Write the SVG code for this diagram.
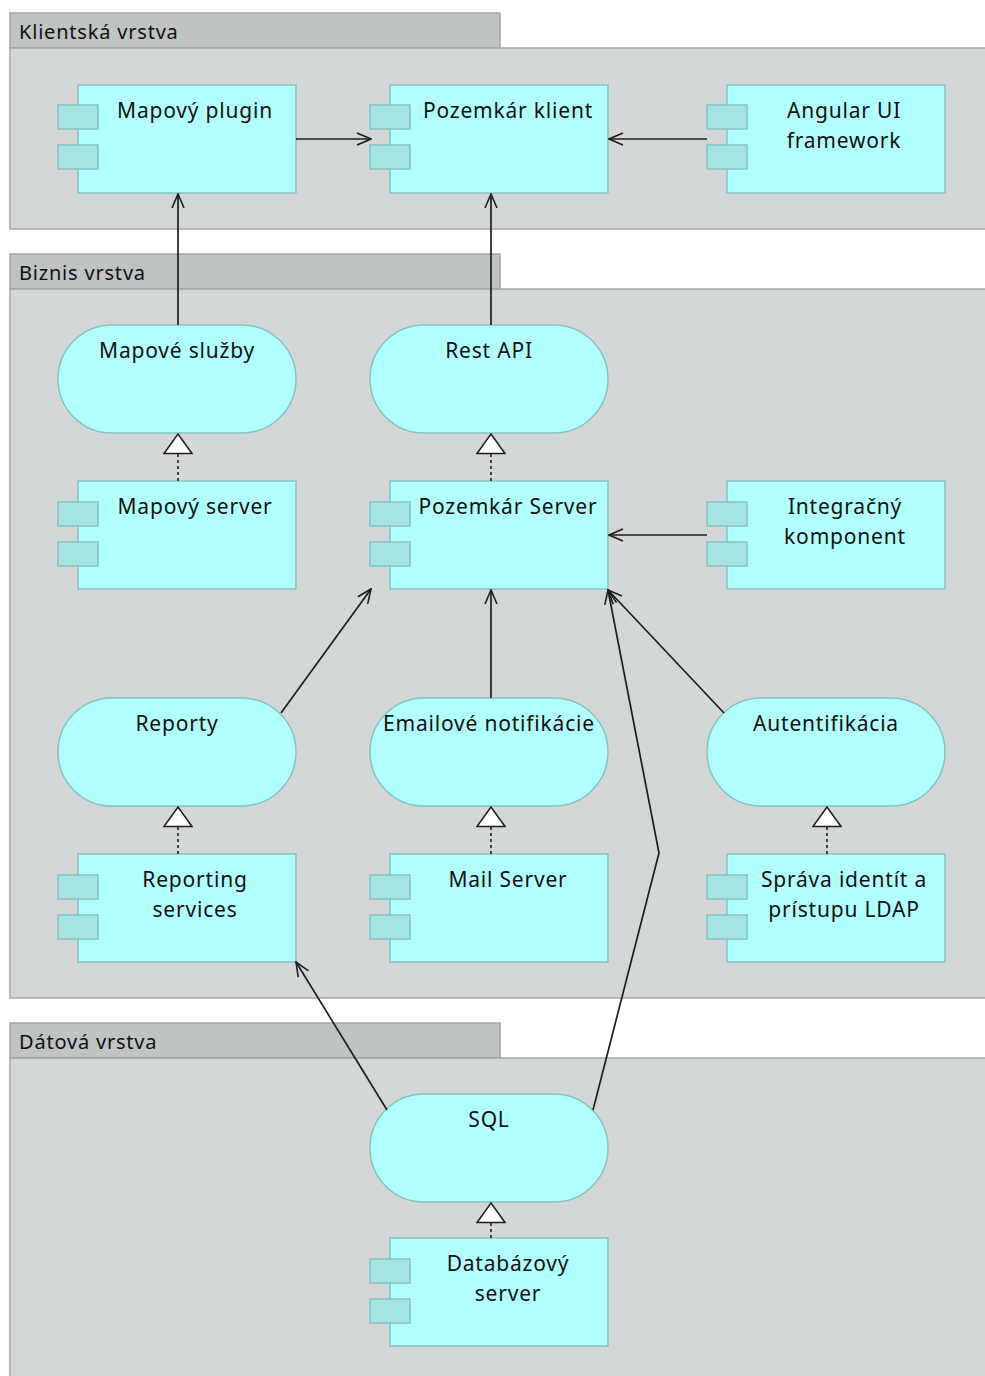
<svg xmlns="http://www.w3.org/2000/svg" width="985" height="1376" viewBox="0 0 985 1376">
  <style>
    .layer-body { fill: #d3d7d7; stroke: #a3a7a7; stroke-width: 1.5; }
    .layer-tab { fill: #bfc3c3; stroke: #a3a7a7; stroke-width: 1.5; }
    .layer-title { font-family: "Noto Sans", "DejaVu Sans", sans-serif; font-size: 20px; letter-spacing: 0.8px; fill: #111; }
    .comp { fill: #b2ffff; stroke: #86c2c2; stroke-width: 1.5; }
    .port { fill: #a6e4e4; stroke: #86c2c2; stroke-width: 1.5; }
    .iface { fill: #b2ffff; stroke: #86c2c2; stroke-width: 1.5; }
    .label { font-family: "Noto Sans", "DejaVu Sans", sans-serif; font-size: 21px; letter-spacing: 0.8px; fill: #111; text-anchor: middle; }
    .flow { fill: none; stroke: #1e1e1e; stroke-width: 1.7; marker-end: url(#open-arrow); }
    .real { fill: none; stroke: #1e1e1e; stroke-width: 1.6; stroke-dasharray: 3 3; marker-end: url(#hollow-tri); }
  </style>
  <defs>
    <marker id="open-arrow" markerUnits="userSpaceOnUse" viewBox="0 0 16 14" refX="15" refY="7" markerWidth="16" markerHeight="14" orient="auto">
      <path d="M1,1 L15,7 L1,13" fill="none" stroke="#1e1e1e" stroke-width="1.6"/>
    </marker>
    <marker id="hollow-tri" markerUnits="userSpaceOnUse" viewBox="0 0 22 30" refX="20.5" refY="15" markerWidth="22" markerHeight="30" orient="auto">
      <path d="M1,1 L20.5,15 L1,29 Z" fill="#ffffff" stroke="#1e1e1e" stroke-width="1.5" stroke-dasharray="none"/>
    </marker>
  </defs>

  <rect width="985" height="1376" fill="#ffffff"/>

  <!-- Layers -->
  <g id="layer-klient">
    <rect class="layer-tab" x="10" y="13" width="490" height="35"/>
    <rect class="layer-body" x="10" y="48" width="990" height="181"/>
    <text class="layer-title" x="19" y="39">Klientská vrstva</text>
  </g>
  <g id="layer-biznis">
    <rect class="layer-tab" x="10" y="254" width="490" height="35"/>
    <rect class="layer-body" x="10" y="289" width="990" height="709"/>
    <text class="layer-title" x="19" y="280">Biznis vrstva</text>
  </g>
  <g id="layer-data">
    <rect class="layer-tab" x="10" y="1023" width="490" height="35"/>
    <rect class="layer-body" x="10" y="1058" width="990" height="330"/>
    <text class="layer-title" x="19" y="1049">Dátová vrstva</text>
  </g>

  <!-- Components -->
  <g id="mapovy-plugin">
    <rect class="comp" x="78" y="85" width="218" height="108"/>
    <rect class="port" x="58" y="105" width="40" height="24"/>
    <rect class="port" x="58" y="145" width="40" height="24"/>
    <text class="label" x="195" y="118">Mapový plugin</text>
  </g>
  <g id="pozemkar-klient">
    <rect class="comp" x="390" y="85" width="218" height="108"/>
    <rect class="port" x="370" y="105" width="40" height="24"/>
    <rect class="port" x="370" y="145" width="40" height="24"/>
    <text class="label" x="508" y="118">Pozemkár klient</text>
  </g>
  <g id="angular-ui">
    <rect class="comp" x="727" y="85" width="218" height="108"/>
    <rect class="port" x="707" y="105" width="40" height="24"/>
    <rect class="port" x="707" y="145" width="40" height="24"/>
    <text class="label" x="844" y="118">Angular UI</text>
    <text class="label" x="844" y="148">framework</text>
  </g>

  <g id="mapove-sluzby">
    <rect class="iface" x="58" y="325" width="238" height="108" rx="54" ry="54"/>
    <text class="label" x="177" y="358">Mapové služby</text>
  </g>
  <g id="rest-api">
    <rect class="iface" x="370" y="325" width="238" height="108" rx="54" ry="54"/>
    <text class="label" x="489" y="358">Rest API</text>
  </g>

  <g id="mapovy-server">
    <rect class="comp" x="78" y="481" width="218" height="108"/>
    <rect class="port" x="58" y="502" width="40" height="24"/>
    <rect class="port" x="58" y="542" width="40" height="24"/>
    <text class="label" x="195" y="514">Mapový server</text>
  </g>
  <g id="pozemkar-server">
    <rect class="comp" x="390" y="481" width="218" height="108"/>
    <rect class="port" x="370" y="502" width="40" height="24"/>
    <rect class="port" x="370" y="542" width="40" height="24"/>
    <text class="label" x="508" y="514">Pozemkár Server</text>
  </g>
  <g id="integracny-komponent">
    <rect class="comp" x="727" y="481" width="218" height="108"/>
    <rect class="port" x="707" y="502" width="40" height="24"/>
    <rect class="port" x="707" y="542" width="40" height="24"/>
    <text class="label" x="845" y="514">Integračný</text>
    <text class="label" x="845" y="544">komponent</text>
  </g>

  <g id="reporty">
    <rect class="iface" x="58" y="698" width="238" height="108" rx="54" ry="54"/>
    <text class="label" x="177" y="731">Reporty</text>
  </g>
  <g id="emailove-notifikacie">
    <rect class="iface" x="370" y="698" width="238" height="108" rx="54" ry="54"/>
    <text class="label" x="489" y="731">Emailové notifikácie</text>
  </g>
  <g id="autentifikacia">
    <rect class="iface" x="707" y="698" width="238" height="108" rx="54" ry="54"/>
    <text class="label" x="826" y="731">Autentifikácia</text>
  </g>

  <g id="reporting-services">
    <rect class="comp" x="78" y="854" width="218" height="108"/>
    <rect class="port" x="58" y="875" width="40" height="24"/>
    <rect class="port" x="58" y="915" width="40" height="24"/>
    <text class="label" x="195" y="887">Reporting</text>
    <text class="label" x="195" y="917">services</text>
  </g>
  <g id="mail-server">
    <rect class="comp" x="390" y="854" width="218" height="108"/>
    <rect class="port" x="370" y="875" width="40" height="24"/>
    <rect class="port" x="370" y="915" width="40" height="24"/>
    <text class="label" x="508" y="887">Mail Server</text>
  </g>
  <g id="sprava-identit">
    <rect class="comp" x="727" y="854" width="218" height="108"/>
    <rect class="port" x="707" y="875" width="40" height="24"/>
    <rect class="port" x="707" y="915" width="40" height="24"/>
    <text class="label" x="844" y="887">Správa identít a</text>
    <text class="label" x="844" y="917">prístupu LDAP</text>
  </g>

  <g id="sql">
    <rect class="iface" x="370" y="1094" width="238" height="108" rx="54" ry="54"/>
    <text class="label" x="489" y="1127">SQL</text>
  </g>
  <g id="databazovy-server">
    <rect class="comp" x="390" y="1238" width="218" height="108"/>
    <rect class="port" x="370" y="1259" width="40" height="24"/>
    <rect class="port" x="370" y="1299" width="40" height="24"/>
    <text class="label" x="508" y="1271">Databázový</text>
    <text class="label" x="508" y="1301">server</text>
  </g>

  <!-- Connectors -->
  <g id="connectors">
    <path class="flow" d="M296,139 L371,139"/>
    <path class="flow" d="M707,139 L609,139"/>
    <path class="flow" d="M178,325 L178,194"/>
    <path class="flow" d="M491,325 L491,194"/>
    <path class="flow" d="M707,535 L609,535"/>
    <path class="flow" d="M281,713 L371,589"/>
    <path class="flow" d="M491,698 L491,590"/>
    <path class="flow" d="M724,713 L608,590"/>
    <path class="flow" d="M387,1110 L296,962"/>
    <path class="flow" d="M593,1110 L659,853 L608,590"/>

    <path class="real" d="M178,481 L178,434"/>
    <path class="real" d="M491,481 L491,434"/>
    <path class="real" d="M178,854 L178,807"/>
    <path class="real" d="M491,854 L491,807"/>
    <path class="real" d="M827,854 L827,807"/>
    <path class="real" d="M491,1238 L491,1203"/>
  </g>
</svg>
